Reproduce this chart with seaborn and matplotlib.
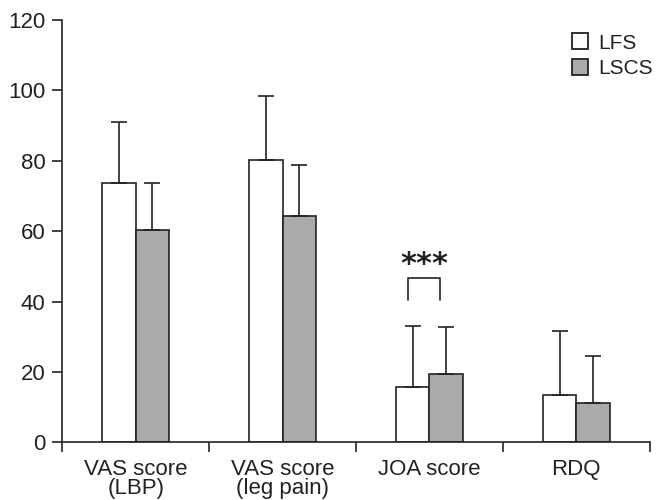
import numpy as np
import pandas as pd
import matplotlib
matplotlib.use("Agg")
import matplotlib.pyplot as plt
import seaborn as sns
from matplotlib.patches import Patch
from matplotlib.ticker import FixedLocator

categories = ["VAS score\n(LBP)", "VAS score\n(leg pain)", "JOA score", "RDQ"]
groups = ["LFS", "LSCS"]
lfs_mean = [73.7, 80.2, 15.8, 13.5]
lfs_sd = [17.3, 18.2, 17.2, 18.0]
lscs_mean = [60.3, 64.4, 19.3, 11.1]
lscs_sd = [13.5, 14.4, 13.4, 13.4]

df = pd.DataFrame({
    "category": categories * 2,
    "group": ["LFS"] * 4 + ["LSCS"] * 4,
    "mean": lfs_mean + lscs_mean,
    "sd": lfs_sd + lscs_sd,
})

sns.set_theme(style="white")
plt.rcParams["font.family"] = ["Liberation Sans", "DejaVu Sans"]

colors = {"LFS": "white", "LSCS": "#aaaaaa"}

fig = plt.figure(figsize=(6.59, 5), dpi=100)
ax = fig.add_axes([0.0945, 0.1154, 0.8915, 0.8446])

sns.barplot(data=df, x="category", y="mean", hue="group", palette=colors,
            edgecolor="#222222", linewidth=1.2, width=0.456, errorbar=None,
            ax=ax, legend=False)

# upward-only error bars
for cont, g in zip(ax.containers, groups):
    sub = df[df["group"] == g]
    xs = [p.get_x() + p.get_width() / 2 for p in cont]
    tops = [p.get_height() for p in cont]
    ax.errorbar(xs, tops, yerr=[np.zeros(len(xs)), sub["sd"].values],
                fmt="none", ecolor="#222222", elinewidth=1.2, capsize=6, capthick=1.2)

# significance bracket on JOA score
ax.plot([1.855, 1.855, 2.07, 2.07], [40.3, 46.6, 46.6, 40.3], color="#222222", lw=1.2)
ax.text(1.965, 50.5, "***", ha="center", va="center", fontsize=22,
        fontweight="bold", color="#222222", family="DejaVu Sans")

ax.set_xlim(-0.5, 3.5)
ax.set_ylim(0, 120)
ax.set_yticks([0, 20, 40, 60, 80, 100, 120])
ax.xaxis.set_major_locator(FixedLocator([-0.5, 0.5, 1.5, 2.5, 3.5]))
ax.xaxis.set_minor_locator(FixedLocator([0, 1, 2, 3]))
ax.set_xticklabels([])
ax.set_xticklabels(categories, minor=True)
ax.tick_params(axis="x", which="major", direction="out", length=7, width=1.2,
               color="#222222", bottom=True)
ax.tick_params(axis="x", which="minor", length=0, labelsize=16, pad=12,
               labelcolor="#222222")
ax.tick_params(axis="y", direction="out", length=7, width=1.2, color="#222222",
               labelsize=16, labelcolor="#222222", left=True, pad=5)
for lab in ax.get_xticklabels(minor=True):
    lab.set_linespacing(0.85)

ax.set_xlabel("")
ax.set_ylabel("")
for s in ["top", "right"]:
    ax.spines[s].set_visible(False)
for s in ["left", "bottom"]:
    ax.spines[s].set_color("#222222")
    ax.spines[s].set_linewidth(1.2)

handles = [Patch(facecolor=colors[g], edgecolor="#222222", linewidth=1.3, label=g) for g in groups]
fig.legend(handles=handles, loc="upper left", bbox_to_anchor=(0.855, 0.95),
           frameon=False, fontsize=15, handlelength=0.8, handleheight=0.8,
           handletextpad=0.45, labelspacing=0.3, borderaxespad=0, labelcolor="#222222")

fig.savefig("out.png", dpi=100)
